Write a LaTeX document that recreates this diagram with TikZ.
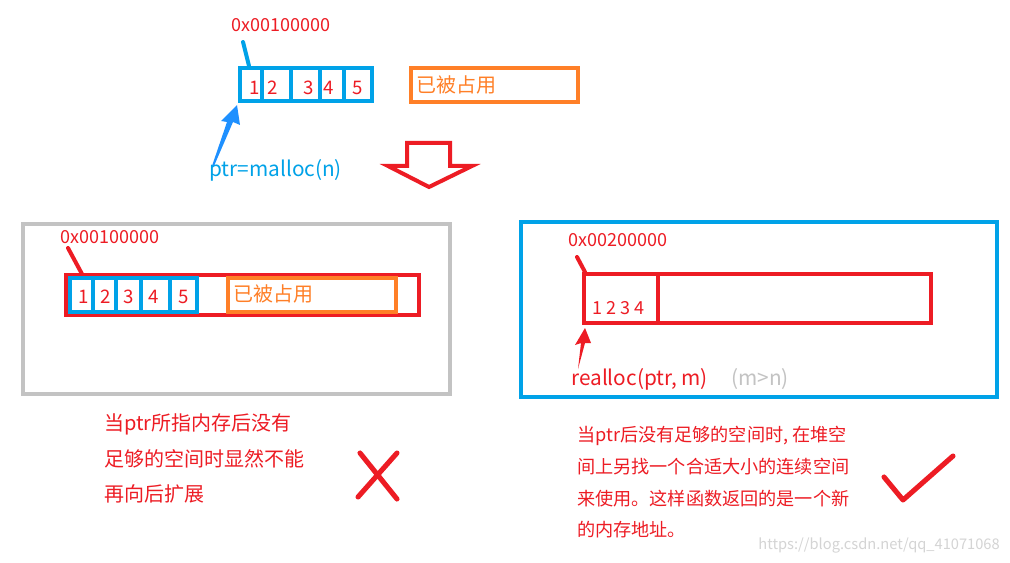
\documentclass[tikz,border=0pt]{standalone}
\usepackage{fontspec}
\setmainfont{Noto Sans CJK SC}
\definecolor{cred}{HTML}{ED1C24}
\definecolor{cblue}{HTML}{00A2E8}
\definecolor{carrow}{HTML}{1E90FF}
\definecolor{corange}{HTML}{FF7F27}
\definecolor{cgray}{HTML}{C3C3C3}
\definecolor{cwm}{HTML}{D4D4D4}
\tikzset{
  lw/.style={line width=3pt},
  redline/.style={lw, draw=cred},
  blueline/.style={lw, draw=cblue},
  orangeline/.style={lw, draw=corange},
  grayline/.style={lw, draw=cgray},
  addr/.style={anchor=west, inner sep=0pt, text=cred, font=\fontsize{13.5pt}{15pt}\selectfont},
  digit/.style={inner sep=0pt, text=cred, font=\fontsize{14pt}{16pt}\selectfont},
  occ/.style={anchor=west, inner sep=0pt, text=corange, font=\fontsize{15pt}{16pt}\selectfont},
  lbl/.style={anchor=west, inner sep=0pt, font=\fontsize{15.6pt}{18pt}\selectfont},
  note/.style={anchor=west, inner sep=0pt, text=cred, font=\fontsize{15pt}{17pt}\selectfont},
  noter/.style={anchor=west, inner sep=0pt, text=cred, font=\fontsize{13.6pt}{17pt}\selectfont},
  markline/.style={draw=cred, line width=3.8pt, line cap=round, line join=round},
}
\begin{document}
\begin{tikzpicture}[x=0.75pt,y=-0.75pt]
\useasboundingbox[fill=white] (0,0) rectangle (1010,563);

% ---------- top ----------
\node[addr] (a1) at (231,25) {0x00100000};
\coordinate (a1s) at (243,42);
\coordinate (a1e) at (249,66);
\draw[blueline, line cap=round] (a1s) -- (a1e);
\draw[blueline] (240,68) rectangle (372,101);
\foreach \x in {262,291,320,344} \draw[blueline] (\x,68) -- (\x,101);
\node[digit] (t1) at (255,88) {1};
\node[digit] (t2) at (273,88) {2};
\node[digit] (t3) at (309,88) {3};
\node[digit] (t4) at (329,88) {4};
\node[digit] (t5) at (358,88) {5};
\draw[orangeline] (411,68) rectangle (578,102);
\node[occ] (o1) at (416,85) {已被占用};
\fill[carrow] (212,166) -- (227,122) -- (221,121) -- (237,105) -- (240,125) -- (233,122) -- (214,166) -- cycle;
\node[lbl, text=cblue] (p1) at (209,170) {ptr=malloc(n)};
\draw[redline, line join=miter] (407,143) -- (450,143) -- (450,166) -- (472,166)
  -- (429,187) -- (388,166) -- (407,166) -- cycle;

% ---------- left middle ----------
\draw[grayline] (23,224) rectangle (450,394);
\node[addr] (a2) at (60,237) {0x00100000};
\coordinate (a2s) at (68,248);
\coordinate (a2e) at (82,274);
\draw[redline, line cap=round] (a2s) -- (a2e);
\draw[redline] (66,275) rectangle (419,315);
\draw[blueline] (70,278) rectangle (197,312);
\foreach \x in {93,116,141,170} \draw[blueline] (\x,278) -- (\x,312);
\node[digit] (m1) at (84,297) {1};
\node[digit] (m2) at (106,297) {2};
\node[digit] (m3) at (129,297) {3};
\node[digit] (m4) at (154,297) {4};
\node[digit] (m5) at (184,297) {5};
\draw[orangeline] (228,278) rectangle (396,312);
\node[occ] (o2) at (233,294) {已被占用};

% ---------- right middle ----------
\draw[blueline] (521,222) rectangle (997,397);
\node[addr] (a3) at (568,240) {0x00200000};
\coordinate (a3s) at (577,257);
\coordinate (a3e) at (585,272);
\draw[redline, line cap=round] (a3s) -- (a3e);
\draw[redline] (584,274) rectangle (931,323);
\draw[redline] (658,274) -- (658,323);
\node[anchor=west, inner sep=0pt, text=cred, font=\fontsize{13.5pt}{15pt}\selectfont] (r1) at (592,308) {1 2 3 4};
\fill[cred] (578,369) -- (581,343) -- (575,345) -- (585,328) -- (591,343) -- (585,343) -- cycle;
\node[lbl, text=cred] (p2) at (571,379) {realloc(ptr, m)};
\node[lbl, text=cgray] (p3) at (731,379) {(m>n)};

% ---------- bottom ----------
\node[note] (n1) at (104,424) {当ptr所指内存后没有};
\node[note] (n2) at (104,459) {足够的空间时显然不能};
\node[note] (n3) at (104,494) {再向后扩展};
\draw[markline] (360,453) -- (397,499);
\draw[markline] (397,453) -- (358,497);

\node[noter] (s1) at (577,436) {当ptr后没有足够的空间时, 在堆空};
\node[noter] (s2) at (577,467) {间上另找一个合适大小的连续空间};
\node[noter] (s3) at (577,499) {来使用。这样函数返回的是一个新};
\node[noter] (s4) at (577,530) {的内存地址。};
\draw[markline] (884,477) -- (903,500) -- (953,456);

\node[anchor=east, inner sep=0pt, text=cwm, font=\fontsize{11pt}{13pt}\selectfont] (wm) at (1000,545) {https://blog.csdn.net/qq\_41071068};
\end{tikzpicture}
\end{document}
